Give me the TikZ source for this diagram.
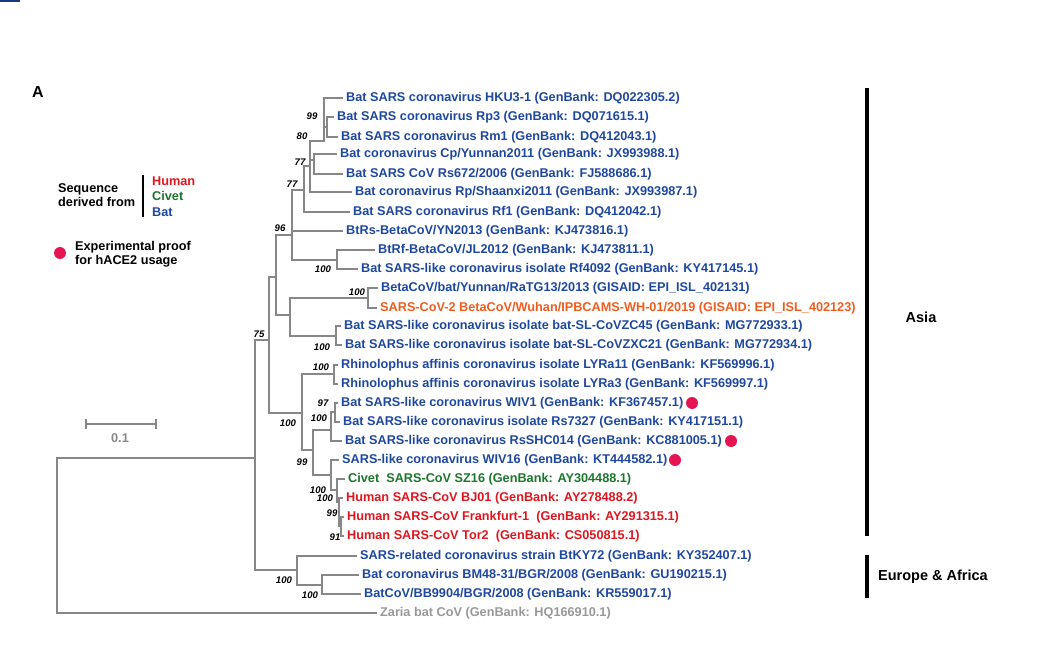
\documentclass[tikz,border=0pt]{standalone}
\usepackage{fontspec}
\setmainfont{Liberation Sans}
\definecolor{batblue}{RGB}{30,72,160}
\definecolor{humanred}{RGB}{222,22,30}
\definecolor{civetgreen}{RGB}{28,118,44}
\definecolor{covorange}{RGB}{240,92,30}
\definecolor{zariagray}{RGB}{152,152,152}
\definecolor{treegray}{RGB}{135,135,135}
\definecolor{dotred}{RGB}{230,20,82}
\newcommand{\tipfont}{\fontsize{12.7}{14.5}\selectfont\bfseries}
\newcommand{\bootfont}{\fontsize{9.6}{10}\selectfont\bfseries\itshape}
\begin{document}
\begin{tikzpicture}[x=1pt, y=-1pt,
    branch/.style={draw=treegray, line width=2.6pt, line cap=rect},
    tip/.style={anchor=west, inner xsep=4pt, inner ysep=0pt, font=\tipfont},
    bat/.style={tip, text=batblue},
    human/.style={tip, text=humanred},
    civet/.style={tip, text=civetgreen},
    boot/.style={inner sep=0pt, font=\bootfont},
    proof/.style={circle, fill=dotred, inner sep=0pt, minimum size=12pt},
    legend/.style={inner sep=0pt, font=\tipfont, align=left}]
\useasboundingbox (0,0) rectangle (1042,666);
\fill[batblue!80!black] (0,0) rectangle (20,2);

% Panel letter
\node[inner sep=0pt, font=\fontsize{16}{18}\selectfont\bfseries] (panel) at (38,92) {A};

% Tip labels, Asia
\node[bat] (hku) at (342,98) {Bat SARS coronavirus HKU3-1 (GenBank: DQ022305.2)};
\node[bat] (rp3) at (333,117) {Bat SARS coronavirus Rp3 (GenBank: DQ071615.1)};
\node[bat] (rm1) at (337,137) {Bat SARS coronavirus Rm1 (GenBank: DQ412043.1)};
\node[bat] (cp) at (336,154) {Bat coronavirus Cp/Yunnan2011 (GenBank: JX993988.1)};
\node[bat] (rs672) at (342,174) {Bat SARS CoV Rs672/2006 (GenBank: FJ588686.1)};
\node[bat] (rpsx) at (351,192) {Bat coronavirus Rp/Shaanxi2011 (GenBank: JX993987.1)};
\node[bat] (rf1) at (349,212) {Bat SARS coronavirus Rf1 (GenBank: DQ412042.1)};
\node[bat] (yn) at (342,231) {BtRs-BetaCoV/YN2013 (GenBank: KJ473816.1)};
\node[bat] (jl) at (374,250) {BtRf-BetaCoV/JL2012 (GenBank: KJ473811.1)};
\node[bat] (rf4092) at (357,269) {Bat SARS-like coronavirus isolate Rf4092 (GenBank: KY417145.1)};
\node[bat] (ratg) at (377,288) {BetaCoV/bat/Yunnan/RaTG13/2013 (GISAID: EPI\_ISL\_402131)};
\node[tip, text=covorange] (cov2) at (376,308) {SARS-CoV-2 BetaCoV/Wuhan/IPBCAMS-WH-01/2019 (GISAID: EPI\_ISL\_402123)};
\node[bat] (zc45) at (340,326) {Bat SARS-like coronavirus isolate bat-SL-CoVZC45 (GenBank: MG772933.1)};
\node[bat] (zxc21) at (341,345) {Bat SARS-like coronavirus isolate bat-SL-CoVZXC21 (GenBank: MG772934.1)};
\node[bat] (lyra11) at (337,365) {Rhinolophus affinis coronavirus isolate LYRa11 (GenBank: KF569996.1)};
\node[bat] (lyra3) at (337,384) {Rhinolophus affinis coronavirus isolate LYRa3 (GenBank: KF569997.1)};
\node[bat] (wiv1) at (337,403) {Bat SARS-like coronavirus WIV1 (GenBank: KF367457.1)};
\node[bat] (rs7327) at (339,422) {Bat SARS-like coronavirus isolate Rs7327 (GenBank: KY417151.1)};
\node[bat] (shc014) at (341,441) {Bat SARS-like coronavirus RsSHC014 (GenBank: KC881005.1)};
\node[bat] (wiv16) at (338,460) {SARS-like coronavirus WIV16 (GenBank: KT444582.1)};
\node[civet] (sz16) at (344,479) {Civet\ \ SARS-CoV SZ16 (GenBank: AY304488.1)};
\node[human] (bj01) at (342,498) {Human SARS-CoV BJ01 (GenBank: AY278488.2)};
\node[human] (frank) at (343,517) {Human SARS-CoV Frankfurt-1\ \ (GenBank: AY291315.1)};
\node[human] (tor2) at (343,536) {Human SARS-CoV Tor2\ \ (GenBank: CS050815.1)};

% Tip labels, Europe & Africa
\node[bat] (btky) at (356,556) {SARS-related coronavirus strain BtKY72 (GenBank: KY352407.1)};
\node[bat] (bm48) at (358,575) {Bat coronavirus BM48-31/BGR/2008 (GenBank: GU190215.1)};
\node[bat] (bb99) at (360,594) {BatCoV/BB9904/BGR/2008 (GenBank: KR559017.1)};
\node[tip, text=zariagray] (zaria) at (376,613) {Zaria bat CoV (GenBank: HQ166910.1)};

% Proof dots
\node[proof] (dwiv1) at (692,403) {};
\node[proof] (dshc) at (731,441) {};
\node[proof] (dwiv16) at (675,460) {};

% Inner nodes (x = node, y = stem)
\coordinate (n99) at (327,127);
\coordinate (n80) at (324,141);
\coordinate (ncp) at (314,160);
\coordinate (na) at (310,166);
\coordinate (nb) at (304,190);
\coordinate (n96) at (292,235);
\coordinate (njl) at (337,260);
\coordinate (ny) at (276,277);
\coordinate (nx) at (290,315);
\coordinate (nra) at (368,298);
\coordinate (nzc) at (336,336);
\coordinate (nasia) at (269,340);
\coordinate (ns) at (302,413);
\coordinate (nly) at (334,374);
\coordinate (nw) at (313,450);
\coordinate (nw2) at (331,430);
\coordinate (nw1) at (335,412);
\coordinate (nv) at (331,475);
\coordinate (nc) at (337,490);
\coordinate (nh) at (339,502);
\coordinate (nh2) at (341,526);
\coordinate (nr1) at (255,458);
\coordinate (ne) at (297,570);
\coordinate (nb2) at (322,585);
\coordinate (root) at (57,458);

% Branches
\draw[branch] (n99) |- (rp3.west);
\draw[branch] (n99) |- (rm1.west);
\draw[branch] (n80) |- (hku.west);
\draw[branch] (n80) |- (n99);
\draw[branch] (ncp) |- (cp.west);
\draw[branch] (ncp) |- (rs672.west);
\draw[branch] (na) |- (n80);
\draw[branch] (na) |- (ncp);
\draw[branch] (na) |- (rpsx.west);
\draw[branch] (nb) |- (na);
\draw[branch] (nb) |- (rf1.west);
\draw[branch] (njl) |- (jl.west);
\draw[branch] (njl) |- (rf4092.west);
\draw[branch] (n96) |- (nb);
\draw[branch] (n96) |- (yn.west);
\draw[branch] (n96) |- (njl);
\draw[branch] (nra) |- (ratg.west);
\draw[branch] (nra) |- (cov2.west);
\draw[branch] (nzc) |- (zc45.west);
\draw[branch] (nzc) |- (zxc21.west);
\draw[branch] (nx) |- (nra);
\draw[branch] (nx) |- (nzc);
\draw[branch] (ny) |- (n96);
\draw[branch] (ny) |- (nx);
\draw[branch] (nly) |- (lyra11.west);
\draw[branch] (nly) |- (lyra3.west);
\draw[branch] (nw1) |- (wiv1.west);
\draw[branch] (nw1) |- (rs7327.west);
\draw[branch] (nw2) |- (nw1);
\draw[branch] (nw2) |- (shc014.west);
\draw[branch] (nh2) |- (frank.west);
\draw[branch] (nh2) |- (tor2.west);
\draw[branch] (nh) |- (bj01.west);
\draw[branch] (nh) |- (nh2);
\draw[branch] (nc) |- (sz16.west);
\draw[branch] (nc) |- (nh);
\draw[branch] (nv) |- (wiv16.west);
\draw[branch] (nv) |- (nc);
\draw[branch] (nw) |- (nw2);
\draw[branch] (nw) |- (nv);
\draw[branch] (ns) |- (nly);
\draw[branch] (ns) |- (nw);
\draw[branch] (nasia) |- (ny);
\draw[branch] (nasia) |- (ns);
\draw[branch] (nb2) |- (bm48.west);
\draw[branch] (nb2) |- (bb99.west);
\draw[branch] (ne) |- (btky.west);
\draw[branch] (ne) |- (nb2);
\draw[branch] (nr1) |- (nasia);
\draw[branch] (nr1) |- (ne);
\draw[branch] (root) |- (nr1);
\draw[branch] (root) |- (zaria.west);

% Bootstrap values
\node[boot] (b99a) at (312,116) {99};
\node[boot] (b80) at (302,136) {80};
\node[boot] (b77a) at (300,162) {77};
\node[boot] (b77b) at (292,184) {77};
\node[boot] (b96) at (280,228) {96};
\node[boot] (bjl) at (323,269) {100};
\node[boot] (bra) at (357,292) {100};
\node[boot] (bzc) at (322,347) {100};
\node[boot] (b75) at (259,334) {75};
\node[boot] (bly) at (321,367) {100};
\node[boot] (b97) at (323,403) {97};
\node[boot] (bw2) at (319,418) {100};
\node[boot] (bs) at (288,423) {100};
\node[boot] (b99b) at (302,462) {99};
\node[boot] (bv) at (318,490) {100};
\node[boot] (bc) at (325,498) {100};
\node[boot] (b99c) at (332,513) {99};
\node[boot] (b91) at (335,537) {91};
\node[boot] (be) at (284,580) {100};
\node[boot] (bb2) at (310,595) {100};

% Legend
\node[legend, anchor=west] (seq) at (58,195) {Sequence\\derived from};
\draw[line width=2.2pt] (143,175) -- (143,217);
\node[legend, anchor=west, text=humanred] (lhuman) at (152,181) {Human};
\node[legend, anchor=west, text=civetgreen] (lcivet) at (152,196) {Civet};
\node[legend, anchor=west, text=batblue] (lbat) at (152,212) {Bat};
\node[proof] (ldot) at (60,253) {};
\node[legend, anchor=west] (lproof) at (75,254) {Experimental proof\\for hACE2 usage};

% Scale bar
\draw[treegray, line width=2.4pt] (86,424) -- (156,424);
\draw[treegray, line width=2.4pt] (86,419) -- (86,429);
\draw[treegray, line width=2.4pt] (156,419) -- (156,429);
\node[inner sep=0pt, text=treegray, font=\tipfont] (scale) at (120,438) {0.1};

% Region bars
\draw[line width=3.2pt] (867,88) -- (867,536);
\draw[line width=3.2pt] (867,555) -- (867,598);
\node[inner sep=0pt, font=\fontsize{14.5}{16}\selectfont\bfseries] (asia) at (921,317) {Asia};
\node[inner sep=0pt, anchor=west, font=\fontsize{14.5}{16}\selectfont\bfseries] (eur) at (878,577) {Europe \& Africa};
\end{tikzpicture}
\end{document}
